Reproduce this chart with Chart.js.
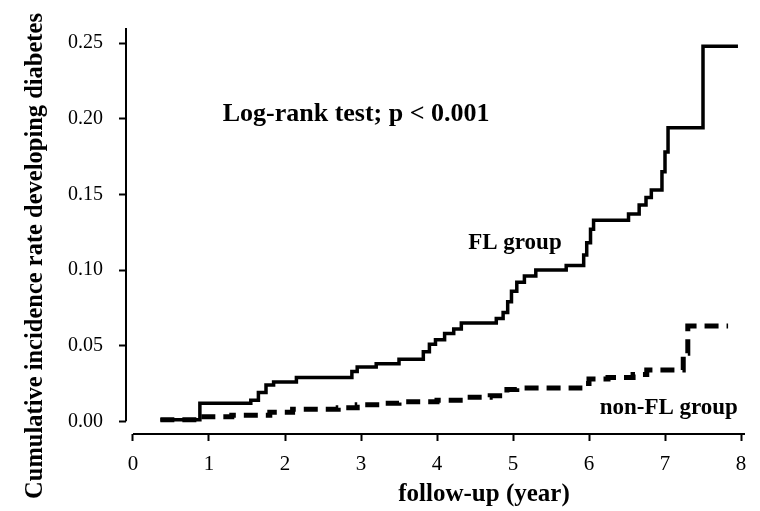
<!DOCTYPE html>
<html lang="en">
  <head>
    <meta charset="utf-8" />
    <title>Cumulative incidence of diabetes</title>
    <style>
      * {
        margin: 0;
        padding: 0;
      }
      body {
        background: #fff;
      }
      .chartBox {
        width: 760px;
        height: 511px;
      }
    </style>
  </head>
  <body>
    <div class="chartBox">
      <canvas id="myChart"></canvas>
    </div>
    <script src="https://cdn.jsdelivr.net/npm/chart.js/dist/chart.umd.min.js"></script>
    <script>
      // data (year, cumulative incidence)
      const flYears = [0.36, 0.88, 1.55, 1.65, 1.75, 1.85, 2.15, 2.88, 2.95, 3.2, 3.5, 3.82, 3.9, 3.98, 4.1, 4.22, 4.32, 4.78, 4.87, 4.93, 4.98, 5.05, 5.15, 5.3, 5.7, 5.93, 5.97, 6.02, 6.06, 6.52, 6.66, 6.75, 6.82, 6.96, 7.0, 7.04, 7.5, 7.96];
      const flRates = [0.001, 0.012, 0.014, 0.019, 0.024, 0.026, 0.029, 0.033, 0.036, 0.038, 0.041, 0.046, 0.051, 0.054, 0.058, 0.061, 0.065, 0.068, 0.072, 0.079, 0.086, 0.092, 0.096, 0.1, 0.103, 0.11, 0.118, 0.127, 0.133, 0.137, 0.143, 0.148, 0.153, 0.165, 0.178, 0.194, 0.248, 0.248];

      const nonFlYears = [0.36, 0.88, 1.3, 1.8, 2.1, 2.7, 2.95, 3.25, 3.5, 4.0, 4.4, 4.7, 4.92, 5.05, 5.88, 6.0, 6.25, 6.58, 6.76, 7.24, 7.3, 7.83];
      const nonFlRates = [0.001, 0.003, 0.004, 0.006, 0.008, 0.009, 0.011, 0.012, 0.013, 0.014, 0.016, 0.017, 0.021, 0.022, 0.025, 0.028, 0.029, 0.031, 0.034, 0.045, 0.063, 0.063];

      const yTicks = [0, 0.05, 0.1, 0.15, 0.2, 0.25];
      const xTicks = [0, 1, 2, 3, 4, 5, 6, 7, 8];

      const notes = ["Log-rank test; p < 0.001", "FL group", "non-FL group"];
      const noteX = [1.18, 4.41, 6.14];
      const noteY = [0.203, 0.118, 0.009];
      const noteSize = [26, 23, 23];

      const xTitle = "follow-up (year)";
      const yTitle = "Cumulative incidence rate developing diabetes";

      const serif = "'Liberation Serif', 'Times New Roman', serif";

      const toPoints = (xs, ys) => xs.map((x, i) => ({ x, y: ys[i] }));

      // axis lines, titles and notes
      const extras = {
        id: "extras",
        afterDraw(chart) {
          const { ctx, chartArea, scales } = chart;
          const xs = scales.x;
          const ys = scales.y;
          ctx.save();
          ctx.strokeStyle = "#000";
          ctx.lineWidth = 2;
          ctx.beginPath();
          ctx.moveTo(chartArea.left, chartArea.top);
          ctx.lineTo(chartArea.left, ys.getPixelForValue(0));
          ctx.moveTo(xs.getPixelForValue(0), chartArea.bottom);
          ctx.lineTo(chartArea.right, chartArea.bottom);
          ctx.stroke();

          ctx.fillStyle = "#000";
          ctx.textBaseline = "middle";
          ctx.textAlign = "left";
          notes.forEach((t, i) => {
            ctx.font = "bold " + noteSize[i] + "px " + serif;
            ctx.fillText(t, xs.getPixelForValue(noteX[i]), ys.getPixelForValue(noteY[i]));
          });

          ctx.textAlign = "center";
          ctx.font = "bold 25px " + serif;
          ctx.fillText(xTitle, 484, 495);

          ctx.translate(36, 256);
          ctx.rotate(-Math.PI / 2);
          ctx.font = "bold 24.5px " + serif;
          ctx.fillText(yTitle, 0, 0);
          ctx.restore();
        },
      };

      const data = {
        datasets: [
          {
            label: "FL group",
            data: toPoints(flYears, flRates),
            borderColor: "#000",
            borderWidth: 3.5,
            stepped: "before",
            pointRadius: 0,
          },
          {
            label: "non-FL group",
            data: toPoints(nonFlYears, nonFlRates),
            borderColor: "#000",
            borderWidth: 5,
            borderDash: [14, 8],
            stepped: "before",
            pointRadius: 0,
          },
        ],
      };

      const config = {
        type: "line",
        data,
        options: {
          responsive: true,
          maintainAspectRatio: false,
          animation: false,
          layout: { padding: { top: 16, right: 15, bottom: 0, left: 0 } },
          plugins: {
            legend: { display: false },
            tooltip: { enabled: false },
          },
          scales: {
            x: {
              type: "linear",
              min: -0.0921,
              max: 8.0526,
              afterFit(scale) {
                scale.height = 77;
              },
              afterBuildTicks(scale) {
                scale.ticks = xTicks.map((v) => ({ value: v }));
              },
              border: { display: false },
              grid: {
                drawOnChartArea: false,
                tickLength: 7,
                tickWidth: 2,
                tickColor: "#000",
              },
              ticks: {
                color: "#000",
                font: { family: serif, size: 21 },
                padding: 11,
                maxRotation: 0,
              },
            },
            y: {
              min: -0.00835,
              max: 0.26,
              afterFit(scale) {
                scale.width = 126;
              },
              afterBuildTicks(scale) {
                scale.ticks = yTicks.map((v) => ({ value: v }));
              },
              border: { display: false },
              grid: {
                drawOnChartArea: false,
                tickLength: 7,
                tickWidth: 2,
                tickColor: "#000",
              },
              ticks: {
                color: "#000",
                font: { family: serif, size: 20 },
                padding: 16,
                callback: (v) => v.toFixed(2),
              },
            },
          },
        },
        plugins: [extras],
      };

      const myChart = new Chart(document.getElementById("myChart"), config);
    </script>
  </body>
</html>
